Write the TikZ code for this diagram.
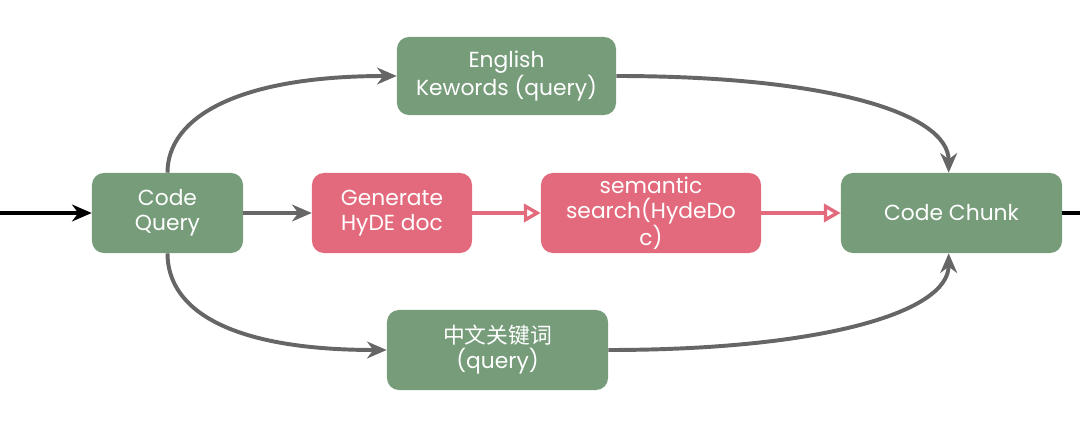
\documentclass[tikz,border=0pt]{standalone}
\usepackage{fontspec}
\setmainfont{Poppins}
\newfontfamily\cjk{Noto Sans CJK SC}
\usetikzlibrary{arrows.meta}
\definecolor{boxgreen}{RGB}{118,156,122}
\definecolor{boxpink}{RGB}{227,106,124}
\definecolor{linegray}{RGB}{102,102,102}

\begin{document}
\begin{tikzpicture}[x=0.025cm,y=0.025cm,
	grn/.style={draw=none,rounded corners=0.3cm,fill=boxgreen,text=white,
	align=center,minimum height=2cm,inner sep=2pt,
	font=\fontsize{15.5}{17.8}\selectfont},
	pnk/.style={grn,fill=boxpink},
	gline/.style={draw=linegray,line width=2.8pt,
	-{Stealth[length=14pt,width=12pt,inset=4.5pt]}},
	pline/.style={draw=boxpink,line width=2.4pt,
	-{Triangle[open,length=12pt,width=13pt]}},
	bline/.style={draw=black,line width=2.8pt}]
\useasboundingbox (0,0) rectangle (1080,422);
\node [grn, minimum width=3.775cm] (query) at (167.5,209) {Code\\Query};
\node [pnk, minimum width=4cm] (hyde) at (392,209) {Generate\\HyDE doc};
\node [pnk, minimum width=5.5cm] (search) at (651,209) {semantic\\search(HydeDo\\c)};
\node [grn, minimum width=5.525cm] (chunk) at (951.5,209) {Code Chunk};
\node [grn, minimum width=5.475cm, minimum height=1.95cm] (eng) at (506.5,346) {English\\Kewords (query)};
\node [grn, minimum width=5.525cm] (zh) at (497.5,72) {{\cjk 中文关键词}\\(query)};
\coordinate (in) at (0,209);
\coordinate (out) at (1080,209);
\draw [bline, -{Stealth[length=14pt,width=12pt,inset=4.5pt]}] (in) -- (query);
\draw [bline] (chunk) -- (out);
\draw [gline] (query) -- (hyde);
\draw [pline] (hyde) -- (search);
\draw [pline] (search) -- (chunk);
\draw [gline] (query.north) .. controls +(0,55) and +(-160,0) .. (eng.west);
\draw [gline] (query.south) .. controls +(0,-55) and +(-160,0) .. (zh.west);
\draw [gline] (eng.east) .. controls +(210,0) and +(0,60) .. ([xshift=-2pt]chunk.north);
\draw [gline] (zh.east) .. controls +(210,0) and +(0,-60) .. ([xshift=-2pt]chunk.south);
\end{tikzpicture}
\end{document}
